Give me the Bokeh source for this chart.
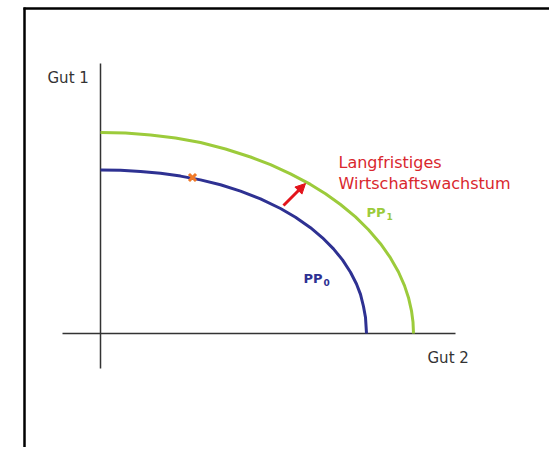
from bokeh.plotting import figure
from bokeh.models import Range1d, Arrow, NormalHead
from bokeh.core.properties import value
from bokeh.embed import file_html
from bokeh.resources import INLINE

# Production possibility frontiers
pp1_x = [0, 25, 50, 75, 100, 125, 150, 170, 190, 210, 225, 240, 255, 268,
         280, 290, 298, 304, 308, 311, 312.5, 313]
pp1_y = [201, 200.4, 198.4, 195.5, 191, 184.5, 176.5, 168.8, 159.7, 149.1, 139.7, 129,
         116.6, 103.8, 89.8, 75.6, 61.5, 47.9, 35.8, 22.7, 11.4, 0]
pp0_x = [0, 20, 40, 60, 80, 100, 120, 140, 160, 180, 195, 210, 222, 233,
         242, 250, 256, 260, 263, 265, 266]
pp0_y = [163.5, 163.2, 162.1, 160.2, 157.4, 153.6, 148.7, 142.4, 134.7, 125, 116.3,
         105.8, 95.7, 84.6, 73.6, 61.3, 49.5, 39.1, 27, 16, 0]
point_x = [92]
point_y = [156]
arrow_from = (183, 128)
arrow_to = (205, 150)
axis_label_y = "Gut 1"
axis_label_x = "Gut 2"
growth_lines = ["Langfristiges", "Wirtschaftswachstum"]

FONT = value("DejaVu Sans")
BLUE = "#2e3192"
GREEN = "#9ccb3b"
RED = "#d9272e"
GREY = "#333333"

p = figure(width=549, height=447, output_backend="svg", toolbar_location=None,
           x_range=Range1d(-100, 449), y_range=Range1d(-114, 333),
           min_border=0, x_axis_location=None, y_axis_location=None)
p.grid.visible = False
p.outline_line_color = None
p.background_fill_color = "white"
p.border_fill_color = "white"

# frame (top and left edges visible)
p.segment(x0=[-77, -76], y0=[325, 326], x1=[470, -76], y1=[325, -130],
          line_color="black", line_width=2.5)

# axes
p.segment(x0=[0, -38], y0=[270, 0], x1=[0, 355], y1=[-35, 0],
          line_color=GREY, line_width=1.5)

# curves
p.line(pp1_x, pp1_y, line_color=GREEN, line_width=3, line_join="round")
p.line(pp0_x, pp0_y, line_color=BLUE, line_width=3, line_join="round")

# point on PP0
p.scatter(point_x, point_y, marker="x", size=10, line_width=3, line_color="#f07a28")

# arrow
p.add_layout(Arrow(x_start=arrow_from[0], y_start=arrow_from[1],
                   x_end=arrow_to[0], y_end=arrow_to[1],
                   line_color="#e3141b", line_width=3,
                   end=NormalHead(size=10, fill_color="#e3141b", line_color="#e3141b")))

# axis labels
p.text(x=[-53], y=[256], text=[axis_label_y], text_font=FONT, text_font_size="15px",
       text_color=GREY, text_baseline="alphabetic", text_align="left")
p.text(x=[327], y=[-24], text=[axis_label_x], text_font=FONT, text_font_size="15px",
       text_color=GREY, text_baseline="alphabetic", text_align="left")

# growth annotation
p.text(x=[238, 238], y=[171, 150], text=growth_lines, text_font=FONT,
       text_font_size="16px", text_color=RED, text_baseline="alphabetic",
       text_align="left")

# curve labels
p.text(x=[266], y=[121], text=["PP"], text_font=FONT, text_font_size="13px",
       text_font_style="bold", text_color=GREEN, text_baseline="alphabetic")
p.text(x=[286], y=[117], text=["1"], text_font=FONT, text_font_size="9px",
       text_font_style="bold", text_color=GREEN, text_baseline="alphabetic")
p.text(x=[203], y=[55], text=["PP"], text_font=FONT, text_font_size="13px",
       text_font_style="bold", text_color=BLUE, text_baseline="alphabetic")
p.text(x=[223], y=[51], text=["0"], text_font=FONT, text_font_size="9px",
       text_font_style="bold", text_color=BLUE, text_baseline="alphabetic")

open("out.html", "w").write(file_html(p, INLINE))
